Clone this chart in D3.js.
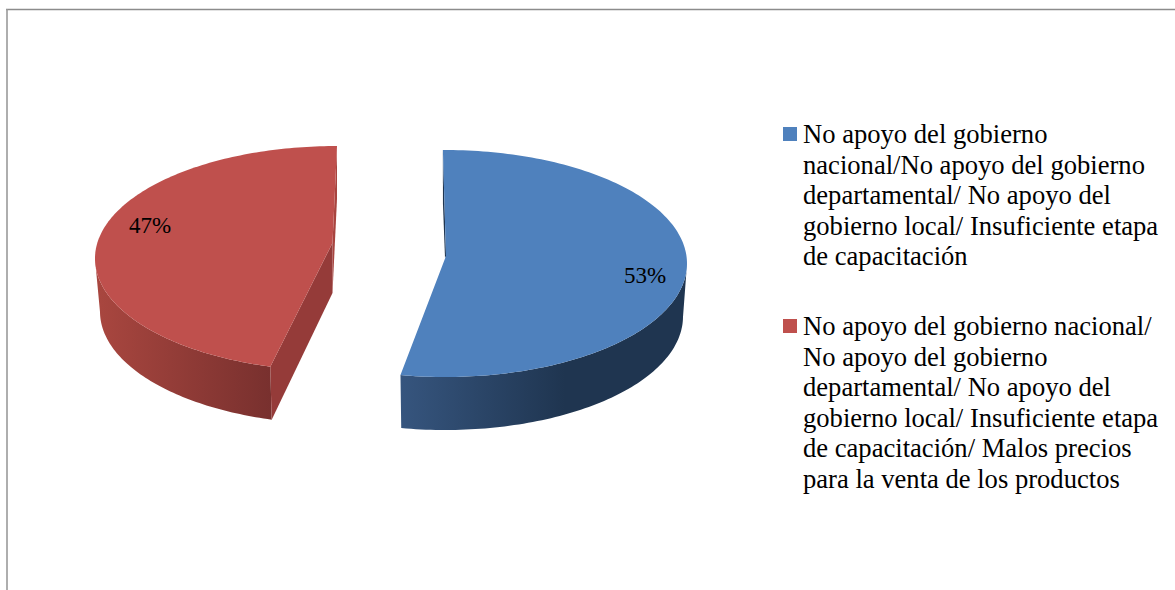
<!DOCTYPE html>
<html>
<head>
<meta charset="utf-8">
<script src="https://cdn.jsdelivr.net/npm/d3@7/dist/d3.min.js"></script>
<style>
html,body{margin:0;padding:0;background:#fff;overflow:hidden}
svg{display:block}
text{font-family:"Liberation Serif","Times New Roman",serif;fill:#000}
</style>
</head>
<body>
<svg id="chart" width="1175" height="590"></svg>
<script>
const categories = [
  ["No apoyo del gobierno","nacional/No apoyo del gobierno","departamental/ No apoyo del","gobierno local/ Insuficiente etapa","de capacitación"],
  ["No apoyo del gobierno nacional/","No apoyo del gobierno","departamental/ No apoyo del","gobierno local/ Insuficiente etapa","de capacitación/ Malos precios","para la venta de los productos"]
];
const values = [53, 47];
const valueLabels = ["53%", "47%"];
const colors = ["#4f81bd", "#bf504d"];

const svg = d3.select("#chart");
const D = Math.PI / 180;

const layouts = [
  {cx:445, cy:263.5, rx:242, ry:113.5, apex:[446,256], apexB:[445,258], bcx:445, bcy:316.5, brx:238,
   drawn:[-0.5,190.6], wallGrad:[[401,"#36557e"],[565,"#1f3550"]], sideFill:"#1f3550",
   label:[645,283], legendY:127, legendBase:143},
  {cx:337, cy:258.5, rx:242, ry:112.5, apex:[332.5,243], apexB:[332.5,293], bcx:337, bcy:311.5, brx:237,
   drawn:[196,360], wallGrad:[[100,"#a8463f"],[272,"#78302e"]], sideFill:"#953b39",
   label:[150,233], legendY:319, legendBase:335}
];

const arcs = d3.pie().sort(null).value(d => d)(values);
const line = d3.line().x(d => d[0]).y(d => d[1]);
const defs = svg.append("defs");

// frame
svg.append("line").attr("x1",6).attr("x2",1175).attr("y1",9.5).attr("y2",9.5).attr("stroke","#8c8c8c").attr("stroke-width",1.4);
svg.append("line").attr("x1",7).attr("x2",7).attr("y1",9).attr("y2",590).attr("stroke","#9a9a9a").attr("stroke-width",1.6);

arcs.forEach((a, i) => {
  const L = layouts[i];
  const ang = d3.scaleLinear().domain([a.startAngle, a.endAngle]).range([L.drawn[0]*D, L.drawn[1]*D]);
  const top = t => [L.cx + L.rx*Math.sin(t), L.cy - L.ry*Math.cos(t)];
  const bot = t => [L.bcx + L.brx*Math.sin(t), L.bcy - L.ry*Math.cos(t)];
  const sweep = d3.range(0, 161).map(k => ang(a.startAngle + (a.endAngle - a.startAngle)*k/160));
  const t0 = sweep[0], t1 = sweep[sweep.length-1];

  // outer wall gradient
  const gid = "wall"+i;
  const g = defs.append("linearGradient").attr("id",gid).attr("gradientUnits","userSpaceOnUse")
    .attr("x1",L.wallGrad[0][0]).attr("x2",L.wallGrad[1][0]).attr("y1",0).attr("y2",0);
  g.append("stop").attr("offset",0).attr("stop-color",L.wallGrad[0][1]);
  g.append("stop").attr("offset",1).attr("stop-color",L.wallGrad[1][1]);

  // front-facing part of the rim
  const front = sweep.filter(t => t >= 90*D && t <= 270*D);
  svg.append("path")
    .attr("d", line(front.map(top).concat(front.slice().reverse().map(bot))) + "Z")
    .attr("fill", `url(#${gid})`);

  // cut faces
  if (i === 0) {
    svg.append("path").attr("d", line([top(t0), bot(t0), L.apexB, L.apex]) + "Z").attr("fill", L.sideFill);
  } else {
    svg.append("path").attr("d", line([top(t1), bot(t1), L.apexB, L.apex]) + "Z").attr("fill", "#a8443f");
    svg.append("path").attr("d", line([top(t0), bot(t0), L.apexB, L.apex]) + "Z").attr("fill", L.sideFill);
  }

  // top face
  svg.append("path")
    .attr("d", line(sweep.map(top).concat([L.apex])) + "Z")
    .attr("fill", colors[i]);

  // value label
  svg.append("text").attr("x",L.label[0]).attr("y",L.label[1])
    .attr("text-anchor","middle").attr("font-size",23).text(valueLabels[i]);

  // legend
  svg.append("rect").attr("x",783).attr("y",L.legendY).attr("width",14).attr("height",14).attr("fill",colors[i]);
  const txt = svg.append("text").attr("font-size",26.6);
  categories[i].forEach((s, k) => {
    txt.append("tspan").attr("x",803).attr("y",L.legendBase + k*30.6).text(s);
  });
});
</script>
</body>
</html>
